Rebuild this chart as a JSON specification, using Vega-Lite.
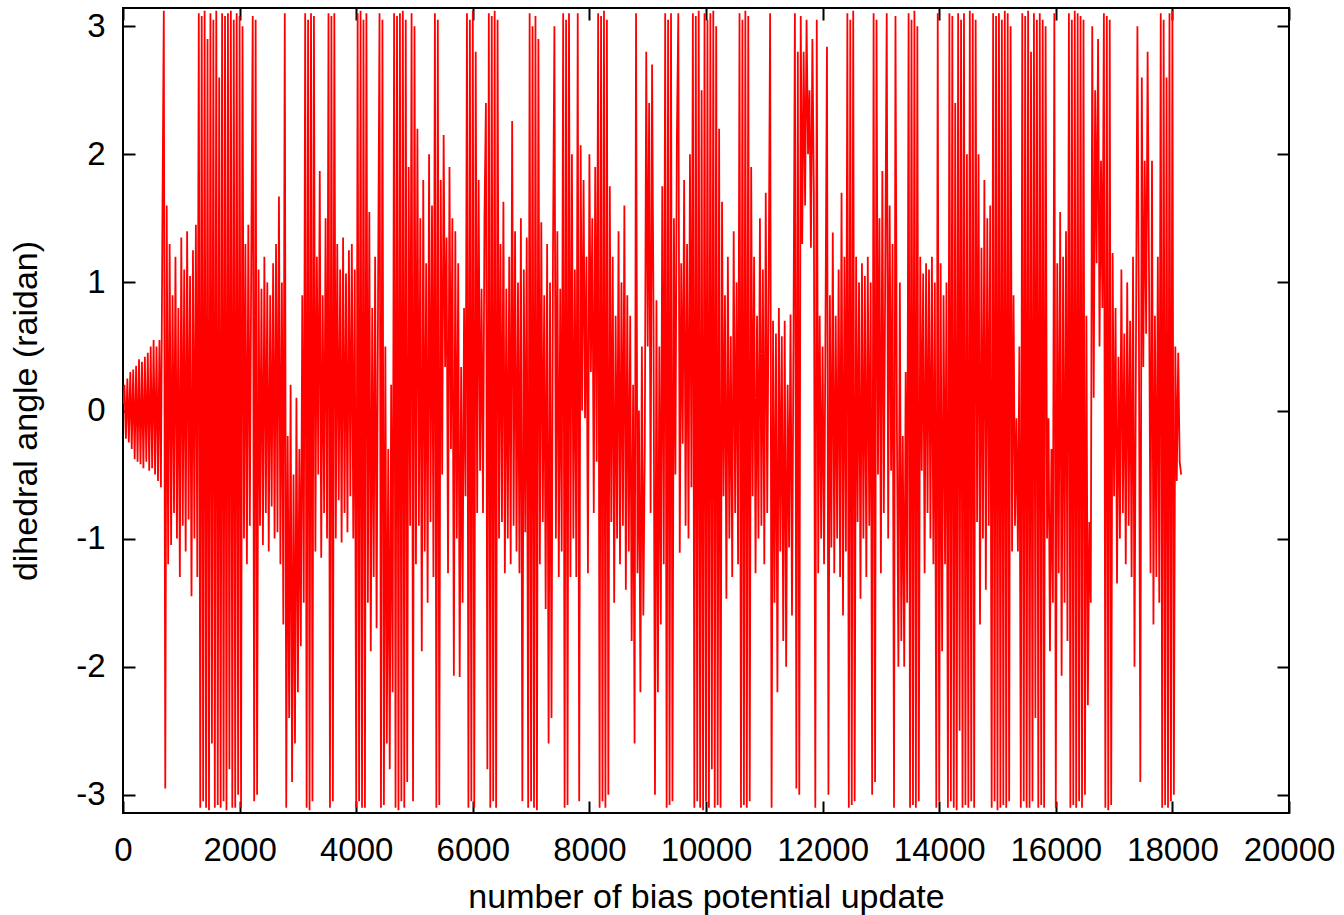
{
"$schema": "https://vega.github.io/schema/vega-lite/v6.json",
"width": 1166, "height": 805,
"autosize": {"type": "none"},
"padding": {"left": 123, "top": 8, "right": 55, "bottom": 102},
"background": "white",
"config": {
 "view": {"stroke": "black", "strokeWidth": 2},
 "axis": {"domain": false, "grid": false, "tickSize": -12, "tickWidth": 2, "tickColor": "black",
  "labelFont": "Liberation Sans", "labelFontSize": 33, "labelColor": "black",
  "titleFont": "Liberation Sans", "titleFontSize": 34, "titleFontWeight": "normal", "titleColor": "black"}
},
"data": {"values": [
{"x":0,"y":0.05},{"x":25,"y":0.2},{"x":50,"y":-0.22},{"x":75,"y":0.25},{"x":100,"y":-0.25},{"x":125,"y":0.3},{"x":150,"y":-0.3},{"x":175,"y":0.32},{"x":200,"y":-0.38},{"x":225,"y":0.35},{"x":250,"y":-0.4},{"x":275,"y":0.4},{"x":300,"y":-0.42},{"x":325,"y":0.38},{"x":350,"y":-0.45},{"x":375,"y":0.42},{"x":400,"y":-0.4},{"x":425,"y":0.45},{"x":450,"y":-0.47},{"x":475,"y":0.5},{"x":500,"y":-0.45},{"x":525,"y":0.55},{"x":550,"y":-0.5},{"x":575,"y":0.5},{"x":600,"y":-0.55},{"x":625,"y":0.55},{"x":650,"y":-0.6},
{"x":675,"y":1.4},{"x":700,"y":3.12},{"x":725,"y":-2.95},{"x":750,"y":1.6},{"x":775,"y":-1.2},{"x":800,"y":1.3},{"x":825,"y":-1.05},{"x":850,"y":0.9},{"x":875,"y":-0.8},{"x":900,"y":1.2},{"x":925,"y":-1.0},{"x":950,"y":0.8},{"x":975,"y":-1.3},{"x":1000,"y":1.35},{"x":1025,"y":-0.9},{"x":1050,"y":1.1},{"x":1075,"y":-1.1},{"x":1100,"y":1.4},{"x":1125,"y":-0.85},{"x":1150,"y":1.05},{"x":1175,"y":-1.45},{"x":1200,"y":1.25},{"x":1225,"y":-1.0},{"x":1250,"y":1.45},{"x":1275,"y":-1.3},
{"x":1300,"y":3.1},{"x":1325,"y":-3.1},{"x":1350,"y":3.08},{"x":1375,"y":-3.05},{"x":1400,"y":3.12},{"x":1425,"y":-3.1},{"x":1450,"y":2.9},{"x":1475,"y":-3.12},{"x":1500,"y":3.1},{"x":1525,"y":-2.6},{"x":1550,"y":3.05},{"x":1575,"y":-3.1},{"x":1600,"y":3.12},{"x":1625,"y":-3.08},{"x":1650,"y":2.6},{"x":1675,"y":-3.1},{"x":1700,"y":3.1},{"x":1725,"y":-3.05},{"x":1750,"y":3.08},{"x":1775,"y":-3.12},{"x":1800,"y":3.1},{"x":1825,"y":-2.8},{"x":1850,"y":3.12},{"x":1875,"y":-3.1},{"x":1900,"y":3.05},{"x":1925,"y":-3.1},{"x":1950,"y":3.1},{"x":1975,"y":-3.0},{"x":2000,"y":3.08},{"x":2025,"y":-3.1},{"x":2050,"y":3.0},
{"x":2075,"y":-1.0},{"x":2100,"y":1.3},{"x":2125,"y":-1.2},{"x":2150,"y":1.45},{"x":2175,"y":-0.9},{"x":2200,"y":1.2},
{"x":2225,"y":3.08},{"x":2250,"y":-3.05},{"x":2275,"y":3.05},{"x":2300,"y":-3.0},
{"x":2325,"y":1.1},{"x":2350,"y":-0.9},{"x":2375,"y":0.95},{"x":2400,"y":-1.05},{"x":2425,"y":1.2},{"x":2450,"y":-0.8},{"x":2475,"y":1.0},{"x":2500,"y":-1.1},{"x":2525,"y":0.9},{"x":2550,"y":-0.75},{"x":2575,"y":1.15},{"x":2600,"y":-1.0},{"x":2625,"y":1.3},{"x":2650,"y":-0.95},{"x":2675,"y":1.67},{"x":2700,"y":-1.2},{"x":2725,"y":1.0},{"x":2750,"y":-1.67},
{"x":2775,"y":3.1},{"x":2800,"y":-3.1},
{"x":2825,"y":-0.2},{"x":2850,"y":-2.4},{"x":2875,"y":0.2},{"x":2900,"y":-2.9},{"x":2925,"y":-0.5},{"x":2950,"y":-2.6},{"x":2975,"y":0.1},{"x":3000,"y":-2.2},{"x":3025,"y":-0.3},
{"x":3050,"y":-1.84},{"x":3075,"y":0.9},{"x":3100,"y":-1.5},
{"x":3125,"y":3.1},{"x":3150,"y":-3.1},{"x":3175,"y":3.05},{"x":3200,"y":-3.12},{"x":3225,"y":3.1},{"x":3250,"y":-3.05},{"x":3275,"y":3.08},
{"x":3300,"y":-1.1},{"x":3325,"y":1.2},{"x":3350,"y":-0.5},{"x":3375,"y":1.87},{"x":3400,"y":-1.15},{"x":3425,"y":0.9},{"x":3450,"y":-0.8},{"x":3475,"y":1.5},{"x":3500,"y":-1.0},
{"x":3525,"y":3.1},{"x":3550,"y":-3.1},{"x":3575,"y":3.08},{"x":3600,"y":-3.05},{"x":3625,"y":3.1},
{"x":3650,"y":-1.0},{"x":3675,"y":1.3},{"x":3700,"y":-0.7},{"x":3725,"y":1.1},{"x":3750,"y":-1.03},{"x":3775,"y":1.35},{"x":3800,"y":-0.8},{"x":3825,"y":1.07},{"x":3850,"y":-0.95},{"x":3875,"y":1.25},{"x":3900,"y":-0.67},{"x":3925,"y":1.3},{"x":3950,"y":-1.0},{"x":3975,"y":1.1},
{"x":4000,"y":-3.1},{"x":4025,"y":3.1},{"x":4050,"y":-3.05},{"x":4075,"y":3.12},{"x":4100,"y":-3.1},{"x":4125,"y":3.05},{"x":4150,"y":-3.1},{"x":4175,"y":3.1},
{"x":4200,"y":-1.5},{"x":4225,"y":1.55},{"x":4250,"y":-1.88},{"x":4275,"y":0.8},{"x":4300,"y":-1.3},{"x":4325,"y":1.2},{"x":4350,"y":-1.7},{"x":4375,"y":0.9},
{"x":4400,"y":3.1},{"x":4425,"y":-3.1},{"x":4450,"y":3.05},{"x":4475,"y":-3.08},
{"x":4500,"y":0.5},{"x":4525,"y":-2.6},{"x":4550,"y":-0.3},{"x":4575,"y":-2.8},{"x":4600,"y":0.2},{"x":4625,"y":-2.2},
{"x":4650,"y":3.1},{"x":4675,"y":-3.1},{"x":4700,"y":3.08},{"x":4725,"y":-3.12},{"x":4750,"y":3.1},{"x":4775,"y":-3.05},{"x":4800,"y":3.12},{"x":4825,"y":-3.1},{"x":4850,"y":3.05},{"x":4875,"y":-2.9},
{"x":4900,"y":1.9},{"x":4925,"y":-0.9},
{"x":4950,"y":3.1},{"x":4975,"y":-3.05},{"x":5000,"y":3.0},
{"x":5025,"y":-1.2},{"x":5050,"y":2.2},{"x":5075,"y":-0.9},{"x":5100,"y":1.5},{"x":5125,"y":-1.88},{"x":5150,"y":1.8},{"x":5175,"y":-1.1},{"x":5200,"y":1.15},{"x":5225,"y":-1.5},{"x":5250,"y":2.0},{"x":5275,"y":-0.87},{"x":5300,"y":1.6},{"x":5325,"y":-1.3},
{"x":5350,"y":3.1},{"x":5375,"y":-3.1},{"x":5400,"y":3.05},{"x":5425,"y":-3.08},
{"x":5450,"y":1.8},{"x":5475,"y":-0.5},{"x":5500,"y":2.15},{"x":5525,"y":0.34},{"x":5550,"y":1.35},{"x":5575,"y":-1.27},{"x":5600,"y":1.9},{"x":5625,"y":-0.3},{"x":5650,"y":1.5},{"x":5675,"y":-2.07},{"x":5700,"y":1.4},{"x":5725,"y":-1.0},
{"x":5750,"y":1.15},{"x":5775,"y":-2.08},{"x":5800,"y":0.34},{"x":5825,"y":-1.5},{"x":5850,"y":0.8},{"x":5875,"y":-0.67},
{"x":5900,"y":3.1},{"x":5925,"y":-3.1},{"x":5950,"y":3.05},{"x":5975,"y":-3.05},{"x":6000,"y":3.12},{"x":6025,"y":-3.1},{"x":6050,"y":2.8},
{"x":6075,"y":-0.8},{"x":6100,"y":1.8},{"x":6125,"y":-0.47},{"x":6150,"y":0.95},{"x":6175,"y":-0.8},{"x":6200,"y":1.5},
{"x":6225,"y":2.4},{"x":6250,"y":-2.8},{"x":6275,"y":3.1},{"x":6300,"y":-3.1},{"x":6325,"y":3.08},{"x":6350,"y":-3.05},{"x":6375,"y":3.12},{"x":6400,"y":-3.1},{"x":6425,"y":3.05},
{"x":6450,"y":-1.0},{"x":6475,"y":1.3},{"x":6500,"y":-0.87},{"x":6525,"y":1.63},{"x":6550,"y":-1.27},{"x":6575,"y":0.95},{"x":6600,"y":-1.0},{"x":6625,"y":1.2},{"x":6650,"y":-1.2},{"x":6675,"y":2.26},{"x":6700,"y":-0.9},{"x":6725,"y":1.4},{"x":6750,"y":-1.1},{"x":6775,"y":1.0},{"x":6800,"y":-1.27},{"x":6825,"y":1.5},{"x":6850,"y":-3.05},{"x":6875,"y":1.1},{"x":6900,"y":-0.95},{"x":6925,"y":1.35},
{"x":6950,"y":-3.1},{"x":6975,"y":3.1},{"x":7000,"y":-3.05},{"x":7025,"y":3.0},{"x":7050,"y":-3.1},{"x":7075,"y":3.08},{"x":7100,"y":-3.12},{"x":7125,"y":2.9},
{"x":7150,"y":-1.2},{"x":7175,"y":1.47},{"x":7200,"y":-0.87},{"x":7225,"y":0.9},{"x":7250,"y":-1.55},{"x":7275,"y":1.3},{"x":7300,"y":-2.6},{"x":7325,"y":1.0},{"x":7350,"y":-2.4},{"x":7375,"y":1.2},{"x":7400,"y":3.0},{"x":7425,"y":-1.0},{"x":7450,"y":1.4},{"x":7475,"y":-1.3},{"x":7500,"y":0.95},{"x":7525,"y":-1.1},
{"x":7550,"y":3.1},{"x":7575,"y":-3.1},{"x":7600,"y":3.05},{"x":7625,"y":-3.08},{"x":7650,"y":3.1},
{"x":7675,"y":-1.3},{"x":7700,"y":2.0},{"x":7725,"y":-1.0},{"x":7750,"y":1.1},{"x":7775,"y":-1.3},{"x":7800,"y":3.1},{"x":7825,"y":-3.05},
{"x":7850,"y":2.07},{"x":7875,"y":0.0},{"x":7900,"y":1.8},{"x":7925,"y":-0.06},{"x":7950,"y":1.2},{"x":7975,"y":-1.27},{"x":8000,"y":2.0},{"x":8025,"y":0.3},{"x":8050,"y":1.5},{"x":8075,"y":-0.8},{"x":8100,"y":1.9},{"x":8125,"y":-0.4},
{"x":8150,"y":3.1},{"x":8175,"y":-3.1},{"x":8200,"y":3.08},{"x":8225,"y":-3.05},{"x":8250,"y":3.12},{"x":8275,"y":-3.1},{"x":8300,"y":3.05},{"x":8325,"y":-3.0},
{"x":8350,"y":1.75},{"x":8375,"y":-0.87},{"x":8400,"y":1.2},{"x":8425,"y":-1.5},{"x":8450,"y":0.74},{"x":8475,"y":-1.0},{"x":8500,"y":1.4},{"x":8525,"y":-1.2},{"x":8550,"y":1.0},{"x":8575,"y":-0.9},{"x":8600,"y":1.6},{"x":8625,"y":-1.4},{"x":8650,"y":0.9},{"x":8675,"y":-1.1},
{"x":8700,"y":0.74},{"x":8725,"y":-1.8},{"x":8750,"y":0.2},{"x":8775,"y":-2.6},{"x":8800,"y":3.1},{"x":8825,"y":-1.27},{"x":8850,"y":0.0},{"x":8875,"y":-2.2},{"x":8900,"y":0.5},{"x":8925,"y":-1.6},{"x":8950,"y":-0.3},
{"x":8975,"y":2.8},{"x":9000,"y":0.5},{"x":9025,"y":2.4},{"x":9050,"y":-0.8},{"x":9075,"y":2.7},{"x":9100,"y":0.7},
{"x":9125,"y":-3.0},{"x":9150,"y":0.86},{"x":9175,"y":-2.2},{"x":9200,"y":0.5},
{"x":9225,"y":-1.67},{"x":9250,"y":1.75},{"x":9275,"y":-1.2},
{"x":9300,"y":3.1},{"x":9325,"y":-3.1},{"x":9350,"y":3.05},{"x":9375,"y":-3.08},{"x":9400,"y":3.1},{"x":9425,"y":-3.05},
{"x":9450,"y":1.5},{"x":9475,"y":-0.5},{"x":9500,"y":2.1},{"x":9525,"y":3.1},{"x":9550,"y":-1.11},{"x":9575,"y":1.15},{"x":9600,"y":-0.26},{"x":9625,"y":1.8},{"x":9650,"y":-0.9},{"x":9675,"y":1.3},{"x":9700,"y":-1.0},{"x":9725,"y":2.0},{"x":9750,"y":-0.6},
{"x":9775,"y":3.1},{"x":9800,"y":-3.1},{"x":9825,"y":3.08},{"x":9850,"y":-3.05},{"x":9875,"y":3.12},{"x":9900,"y":-3.1},{"x":9925,"y":2.5},{"x":9950,"y":-3.12},{"x":9975,"y":3.1},{"x":10000,"y":-3.05},{"x":10025,"y":3.05},{"x":10050,"y":-3.1},{"x":10075,"y":3.1},{"x":10100,"y":-2.8},{"x":10125,"y":3.12},{"x":10150,"y":-3.1},{"x":10175,"y":3.0},{"x":10200,"y":-3.08},{"x":10225,"y":2.2},{"x":10250,"y":-3.1},
{"x":10275,"y":1.63},{"x":10300,"y":-0.67},{"x":10325,"y":0.9},{"x":10350,"y":-1.47},{"x":10375,"y":1.2},{"x":10400,"y":-1.0},{"x":10425,"y":0.58},{"x":10450,"y":-1.3},{"x":10475,"y":1.4},{"x":10500,"y":-0.8},{"x":10525,"y":1.0},{"x":10550,"y":-1.2},
{"x":10575,"y":3.1},{"x":10600,"y":-3.1},{"x":10625,"y":3.05},{"x":10650,"y":-3.08},{"x":10675,"y":3.12},{"x":10700,"y":-3.1},{"x":10725,"y":3.08},{"x":10750,"y":-3.05},
{"x":10775,"y":1.9},{"x":10800,"y":-0.67},{"x":10825,"y":1.2},{"x":10850,"y":-1.27},{"x":10875,"y":0.74},{"x":10900,"y":-1.0},{"x":10925,"y":1.5},{"x":10950,"y":-0.9},{"x":10975,"y":1.1},{"x":11000,"y":-1.2},{"x":11025,"y":1.7},{"x":11050,"y":-0.8},{"x":11075,"y":1.0},
{"x":11100,"y":3.1},{"x":11125,"y":-3.1},{"x":11150,"y":0.7},
{"x":11175,"y":-1.5},{"x":11200,"y":0.6},{"x":11225,"y":-2.2},{"x":11250,"y":0.8},{"x":11275,"y":-1.1},{"x":11300,"y":0.58},{"x":11325,"y":-1.8},{"x":11350,"y":0.7},{"x":11375,"y":-2.0},{"x":11400,"y":0.2},{"x":11425,"y":-1.07},{"x":11450,"y":0.75},{"x":11475,"y":-1.6},{"x":11500,"y":0.5},
{"x":11525,"y":3.1},{"x":11550,"y":-2.95},{"x":11575,"y":2.8},{"x":11600,"y":-3.0},
{"x":11625,"y":3.08},{"x":11650,"y":1.3},{"x":11675,"y":2.8},{"x":11700,"y":1.6},{"x":11725,"y":3.05},{"x":11750,"y":2.0},{"x":11775,"y":2.5},{"x":11800,"y":1.27},{"x":11825,"y":2.9},{"x":11850,"y":1.7},
{"x":11875,"y":-3.1},{"x":11900,"y":3.05},
{"x":11925,"y":-1.27},{"x":11950,"y":0.74},{"x":11975,"y":-1.0},{"x":12000,"y":0.5},{"x":12025,"y":-1.2},{"x":12050,"y":0.7},
{"x":12075,"y":2.84},{"x":12100,"y":-3.0},{"x":12125,"y":0.9},
{"x":12150,"y":-1.07},{"x":12175,"y":1.39},{"x":12200,"y":-1.27},{"x":12225,"y":0.74},{"x":12250,"y":-1.0},{"x":12275,"y":1.1},{"x":12300,"y":-1.3},{"x":12325,"y":1.7},{"x":12350,"y":-1.6},{"x":12375,"y":1.2},{"x":12400,"y":-1.1},
{"x":12425,"y":3.1},{"x":12450,"y":-3.1},{"x":12475,"y":3.05},{"x":12500,"y":-3.08},{"x":12525,"y":3.12},{"x":12550,"y":-3.05},
{"x":12575,"y":1.2},{"x":12600,"y":-0.87},{"x":12625,"y":1.0},{"x":12650,"y":-1.47},{"x":12675,"y":1.15},{"x":12700,"y":-1.0},{"x":12725,"y":1.05},{"x":12750,"y":-1.3},{"x":12775,"y":1.2},{"x":12800,"y":-0.9},{"x":12825,"y":1.0},
{"x":12850,"y":-3.0},{"x":12875,"y":3.1},{"x":12900,"y":-2.9},{"x":12925,"y":3.05},
{"x":12950,"y":-0.5},{"x":12975,"y":1.5},{"x":13000,"y":-1.27},{"x":13025,"y":1.87},{"x":13050,"y":-0.8},{"x":13075,"y":1.15},{"x":13100,"y":3.1},{"x":13125,"y":-1.0},{"x":13150,"y":1.6},{"x":13175,"y":-0.47},{"x":13200,"y":1.3},
{"x":13225,"y":-3.1},{"x":13250,"y":3.08},
{"x":13275,"y":-0.14},{"x":13300,"y":-2.0},{"x":13325,"y":1.0},{"x":13350,"y":-1.8},{"x":13375,"y":-0.2},{"x":13400,"y":-2.0},{"x":13425,"y":0.3},{"x":13450,"y":-1.5},
{"x":13475,"y":3.1},{"x":13500,"y":-3.1},{"x":13525,"y":3.05},{"x":13550,"y":-3.08},{"x":13575,"y":3.12},{"x":13600,"y":-3.1},{"x":13625,"y":3.0},{"x":13650,"y":-3.05},
{"x":13675,"y":1.2},{"x":13700,"y":-0.47},{"x":13725,"y":1.07},{"x":13750,"y":-1.27},{"x":13775,"y":1.15},{"x":13800,"y":-0.8},{"x":13825,"y":1.1},{"x":13850,"y":-1.0},{"x":13875,"y":1.2},{"x":13900,"y":-1.2},{"x":13925,"y":1.0},
{"x":13950,"y":-3.1},{"x":13975,"y":3.1},{"x":14000,"y":-3.05},
{"x":14025,"y":1.15},{"x":14050,"y":-1.88},{"x":14075,"y":0.9},{"x":14100,"y":-1.2},{"x":14125,"y":1.0},
{"x":14150,"y":-3.1},{"x":14175,"y":3.1},{"x":14200,"y":-3.05},{"x":14225,"y":3.08},{"x":14250,"y":-3.1},{"x":14275,"y":2.4},{"x":14300,"y":-3.12},{"x":14325,"y":3.1},{"x":14350,"y":-2.5},{"x":14375,"y":3.05},{"x":14400,"y":-3.1},{"x":14425,"y":3.1},{"x":14450,"y":-3.08},{"x":14475,"y":2.0},{"x":14500,"y":-3.1},{"x":14525,"y":3.12},{"x":14550,"y":-3.05},{"x":14575,"y":3.1},{"x":14600,"y":-3.1},{"x":14625,"y":3.05},
{"x":14650,"y":-0.87},{"x":14675,"y":2.0},{"x":14700,"y":-1.67},{"x":14725,"y":1.27},{"x":14750,"y":-1.0},{"x":14775,"y":1.8},{"x":14800,"y":-1.4},{"x":14825,"y":1.5},{"x":14850,"y":-0.9},{"x":14875,"y":1.6},
{"x":14900,"y":-3.1},{"x":14925,"y":3.1},{"x":14950,"y":-3.05},{"x":14975,"y":3.08},{"x":15000,"y":-3.12},{"x":15025,"y":3.1},{"x":15050,"y":-3.1},{"x":15075,"y":3.05},{"x":15100,"y":-3.08},{"x":15125,"y":3.12},{"x":15150,"y":-3.1},{"x":15175,"y":3.1},{"x":15200,"y":-3.05},{"x":15225,"y":3.0},
{"x":15250,"y":-1.1},{"x":15275,"y":0.9},{"x":15300,"y":-0.9},{"x":15325,"y":-0.06},{"x":15350,"y":-1.1},{"x":15375,"y":0.5},
{"x":15400,"y":-3.1},{"x":15425,"y":3.1},{"x":15450,"y":-3.05},{"x":15475,"y":3.08},{"x":15500,"y":-3.1},{"x":15525,"y":3.12},{"x":15550,"y":-3.1},{"x":15575,"y":2.8},{"x":15600,"y":-3.05},{"x":15625,"y":3.1},{"x":15650,"y":-2.4},{"x":15675,"y":3.05},{"x":15700,"y":-3.1},{"x":15725,"y":3.1},{"x":15750,"y":-3.08},{"x":15775,"y":3.05},{"x":15800,"y":-3.1},{"x":15825,"y":3.0},
{"x":15850,"y":-1.0},{"x":15875,"y":-0.06},{"x":15900,"y":-1.88},{"x":15925,"y":-0.3},{"x":15950,"y":-1.5},
{"x":15975,"y":3.1},{"x":16000,"y":-3.1},
{"x":16025,"y":1.15},{"x":16050,"y":-1.27},{"x":16075,"y":1.55},{"x":16100,"y":-2.07},{"x":16125,"y":1.2},{"x":16150,"y":-1.5},{"x":16175,"y":1.4},{"x":16200,"y":-1.8},
{"x":16225,"y":3.1},{"x":16250,"y":-3.1},{"x":16275,"y":3.05},{"x":16300,"y":-3.08},{"x":16325,"y":3.12},{"x":16350,"y":-3.1},{"x":16375,"y":3.1},{"x":16400,"y":-3.05},{"x":16425,"y":3.08},{"x":16450,"y":-3.1},{"x":16475,"y":3.05},{"x":16500,"y":-3.0},
{"x":16525,"y":0.74},{"x":16550,"y":-2.3},{"x":16575,"y":-0.87},{"x":16600,"y":-1.5},
{"x":16625,"y":3.0},{"x":16650,"y":0.1},{"x":16675,"y":2.5},{"x":16700,"y":1.15},{"x":16725,"y":2.9},{"x":16750,"y":0.5},{"x":16775,"y":1.95},{"x":16800,"y":0.8},
{"x":16825,"y":3.1},{"x":16850,"y":-3.1},{"x":16875,"y":3.08},{"x":16900,"y":-3.12},{"x":16925,"y":3.05},{"x":16950,"y":-3.08},
{"x":16975,"y":1.23},{"x":17000,"y":-0.67},{"x":17025,"y":0.8},{"x":17050,"y":-1.35},{"x":17075,"y":0.42},{"x":17100,"y":-1.0},{"x":17125,"y":1.1},{"x":17150,"y":-0.8},{"x":17175,"y":0.6},{"x":17200,"y":-1.2},{"x":17225,"y":1.0},{"x":17250,"y":-0.9},{"x":17275,"y":0.7},{"x":17300,"y":-1.3},{"x":17325,"y":1.2},{"x":17350,"y":-2.0},{"x":17375,"y":0.5},
{"x":17400,"y":3.0},{"x":17425,"y":0.74},{"x":17450,"y":-2.9},{"x":17475,"y":2.6},{"x":17500,"y":0.34},{"x":17525,"y":1.95},{"x":17550,"y":0.6},{"x":17575,"y":2.8},{"x":17600,"y":1.0},
{"x":17625,"y":-1.27},{"x":17650,"y":1.95},{"x":17675,"y":-1.67},{"x":17700,"y":0.74},{"x":17725,"y":-1.3},{"x":17750,"y":1.2},{"x":17775,"y":-1.5},
{"x":17800,"y":3.1},{"x":17825,"y":-3.1},{"x":17850,"y":3.05},{"x":17875,"y":-3.08},{"x":17900,"y":2.6},{"x":17925,"y":-3.1},{"x":17950,"y":3.1},{"x":17975,"y":-3.05},{"x":18000,"y":3.12},{"x":18025,"y":-3.0},
{"x":18050,"y":0.5},{"x":18075,"y":-0.55},{"x":18100,"y":0.45},{"x":18125,"y":-0.4},{"x":18150,"y":-0.5}
]},
"layer": [
 {"mark": {"type": "line", "color": "#ff0000", "strokeWidth": 1.8, "clip": true},
  "encoding": {
   "x": {"field": "x", "type": "quantitative", "scale": {"domain": [0, 20000], "nice": false, "zero": false},
    "axis": {"orient": "bottom", "values": [0,2000,4000,6000,8000,10000,12000,14000,16000,18000,20000], "format": "d", "labelPadding": 33, "labelFlush": false, "title": "number of bias potential update", "titlePadding": 13}},
   "y": {"field": "y", "type": "quantitative", "scale": {"domain": [-3.14159, 3.14159], "nice": false, "zero": false},
    "axis": {"orient": "left", "values": [-3,-2,-1,0,1,2,3], "labelPadding": 30, "labelExpr": "replace(datum.label, '−', '-')", "title": "dihedral angle (raidan)", "titlePadding": 32}}
  }},
 {"mark": {"type": "line", "opacity": 0},
  "encoding": {
   "x": {"field": "x", "type": "quantitative", "axis": {"orient": "top", "values": [0,2000,4000,6000,8000,10000,12000,14000,16000,18000,20000], "labels": false, "title": null}},
   "y": {"field": "y", "type": "quantitative", "axis": {"orient": "right", "values": [-3,-2,-1,0,1,2,3], "labels": false, "title": null}}
  }}
],
"resolve": {"axis": {"x": "independent", "y": "independent"}}
}
